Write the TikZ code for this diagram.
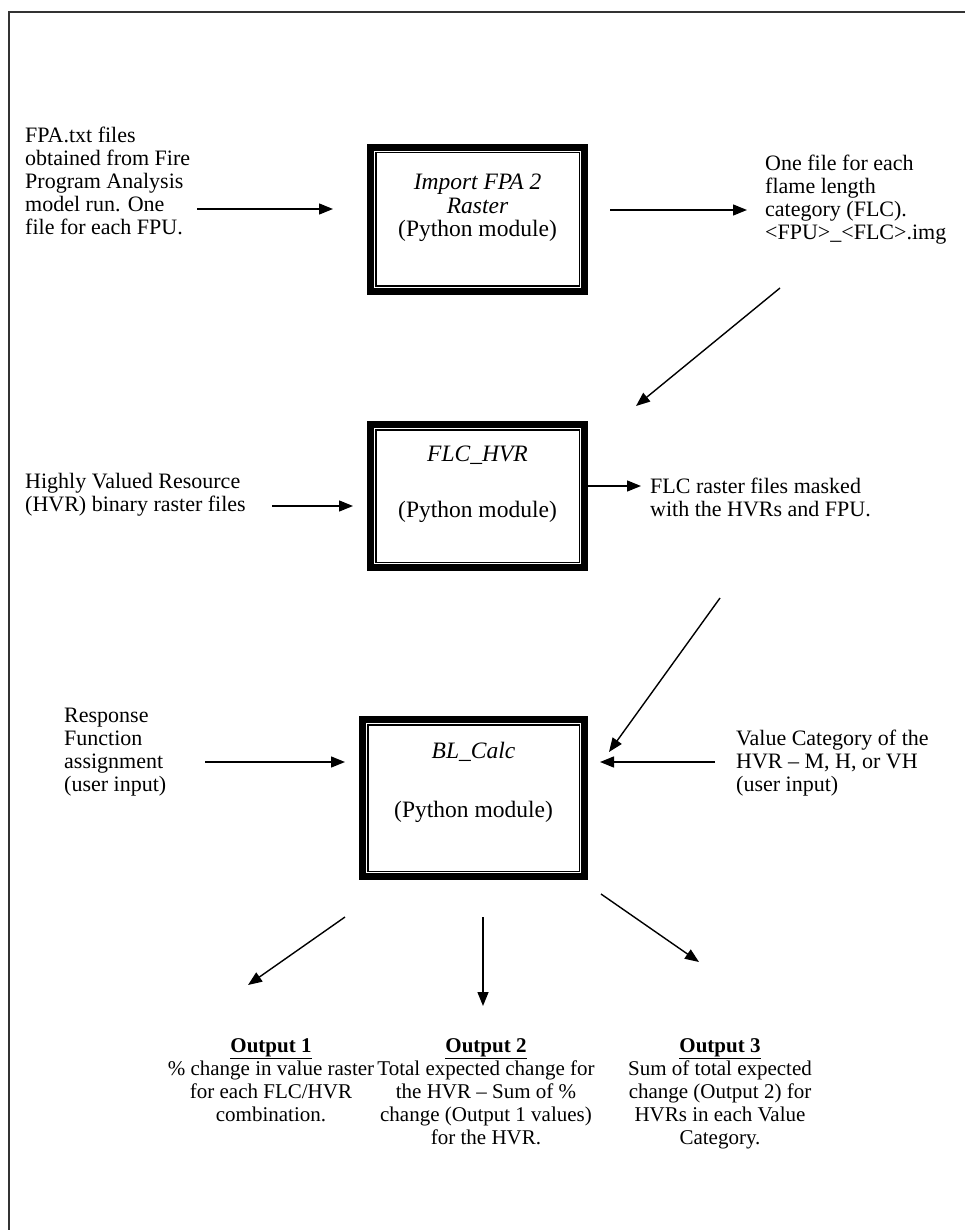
\documentclass[tikz,border=0pt]{standalone}
\usepackage{fontspec}
\setmainfont{Liberation Serif}
\usetikzlibrary{arrows.meta}
\newcommand{\tribox}[4]{%
  \node[boxouter, minimum width=#3pt, minimum height=#4pt] (#1) at #2 {};
  \draw[line width=4.5pt] ([shift={(4.55pt,4.55pt)}]#1.south west) rectangle ([shift={(-4.55pt,-4.55pt)}]#1.north east);
  \draw[line width=1.2pt] ([shift={(8.9pt,8.9pt)}]#1.south west) rectangle ([shift={(-8.9pt,-8.9pt)}]#1.north east);
}
\begin{document}
\begin{tikzpicture}[x=1pt,y=-1pt,
  txt/.style={inner sep=0pt, font=\fontsize{22}{23}\selectfont},
  btxt/.style={inner sep=0pt, font=\fontsize{23.5}{23.5}\selectfont},
  ltxt/.style={txt, align=left, anchor=north west},
  ctxt/.style={txt, align=center, anchor=north},
  otxt/.style={inner sep=0pt, font=\fontsize{21}{23}\selectfont, align=center, anchor=north},
  arr/.style={line width=1.4pt, -{Triangle[length=14pt,width=11pt]}},
  boxouter/.style={draw, line width=1.6pt, inner sep=0pt},
]
\useasboundingbox (0,0) rectangle (964,1230);
\draw[line width=2pt, black!80] (9,1232) -- (9,12) -- (966,12);

% boxes
\tribox{b1}{(477.5,219.5)}{219.4}{149.4}
\tribox{b2}{(477.5,496)}{219.4}{148.4}
\tribox{b3}{(473.5,798)}{227.4}{162.4}

\node[btxt, align=center, anchor=north] (t1) at (477.5,174) {\textit{Import FPA 2}\\\textit{Raster}\\(Python module)};
\node[btxt] (t2a) at (477.5,455) {\textit{FLC\_HVR}};
\node[btxt] (t2b) at (477.5,512) {(Python module)};
\node[btxt] (t3a) at (473.5,752) {\textit{BL\_Calc}};
\node[btxt] (t3b) at (473.5,812) {(Python module)};

% side texts
\node[ltxt] (ta) at (25,127) {FPA.txt files\\obtained from Fire\\Program Analysis\\model run. One\\file for each FPU.};
\node[ltxt] (tb) at (765,155) {One file for each\\flame length\\category (FLC).\\<FPU>\_<FLC>.img};
\node[ltxt] (tc) at (25,473) {Highly Valued Resource\\(HVR) binary raster files};
\node[ltxt] (td) at (650,478) {FLC raster files masked\\with the HVRs and FPU.};
\node[ltxt] (te) at (64,708) {Response\\Function\\assignment\\(user input)};
\node[ltxt] (tf) at (736,730) {Value Category of the\\HVR – M, H, or VH\\(user input)};

% outputs
\node[otxt] (o1) at (271,1038) {\textbf{\underline{Output 1}}\\\% change in value raster\\for each FLC/HVR\\combination.};
\node[otxt] (o2) at (486,1038) {\textbf{\underline{Output 2}}\\Total expected change for\\the HVR – Sum of \%\\change (Output 1 values)\\for the HVR.};
\node[otxt] (o3) at (720,1038) {\textbf{\underline{Output 3}}\\Sum of total expected\\change (Output 2) for\\HVRs in each Value\\Category.};

% arrow end points
\coordinate (a1s) at (197,209); \coordinate (a1e) at (333,209);
\coordinate (a2s) at (610,210); \coordinate (a2e) at (747,210);
\coordinate (a3s) at (780,288); \coordinate (a3e) at (636,406);
\coordinate (a4s) at (272,506); \coordinate (a4e) at (353,506);
\coordinate (a5e) at (641,486);
\coordinate (a6s) at (720,598); \coordinate (a6e) at (609,752);
\coordinate (a7s) at (205,762); \coordinate (a7e) at (345,762);
\coordinate (a8s) at (715,762); \coordinate (a8e) at (600,762);
\coordinate (a9s) at (345,917); \coordinate (a9e) at (248,985);
\coordinate (a10s) at (483,917); \coordinate (a10e) at (483,1006);
\coordinate (a11s) at (601,894); \coordinate (a11e) at (699,962);

\draw[arr] (a1s) -- (a1e);
\draw[arr] (a2s) -- (a2e);
\draw[arr] (a3s) -- (a3e);
\draw[arr] (a4s) -- (a4e);
\draw[arr] (b2.east |- a5e) -- (a5e);
\draw[arr] (a6s) -- (a6e);
\draw[arr] (a7s) -- (a7e);
\draw[arr] (a8s) -- (a8e);
\draw[arr] (a9s) -- (a9e);
\draw[arr] (a10s) -- (a10e);
\draw[arr] (a11s) -- (a11e);
\end{tikzpicture}
\end{document}
